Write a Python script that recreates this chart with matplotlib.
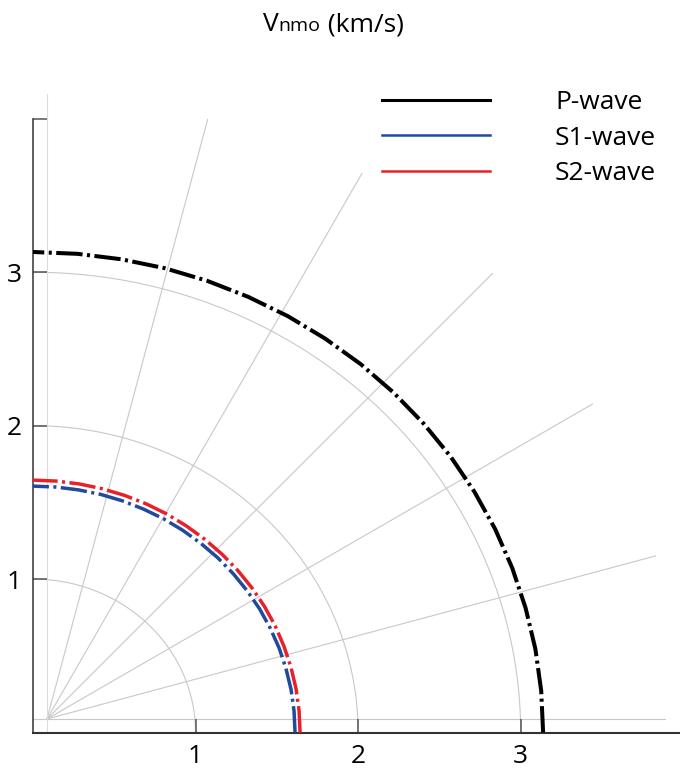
import numpy as np
import matplotlib.pyplot as plt
from matplotlib.lines import Line2D

plt.rcParams['font.family'] = ['Open Sans', 'DejaVu Sans']
plt.rcParams['lines.scale_dashes'] = False

# NMO velocity (km/s) vs azimuth measured from the x axis (deg)
azimuth = [0, 5, 10, 15, 20, 25, 30, 35, 40, 45, 50, 55, 60, 65, 70, 75, 80, 85, 90]
vnmo_p = [3.138, 3.138, 3.138, 3.137, 3.137, 3.137, 3.136, 3.136, 3.135, 3.135,
          3.135, 3.134, 3.134, 3.133, 3.133, 3.133, 3.132, 3.132, 3.132]
vnmo_s1 = [1.612, 1.612, 1.612, 1.611, 1.611, 1.610, 1.610, 1.609, 1.609, 1.609,
           1.608, 1.608, 1.608, 1.607, 1.607, 1.607, 1.606, 1.606, 1.606]
vnmo_s2 = [1.643, 1.643, 1.643, 1.643, 1.643, 1.644, 1.644, 1.644, 1.644, 1.644,
           1.644, 1.644, 1.645, 1.645, 1.645, 1.645, 1.645, 1.645, 1.645]

series = [("P-wave", vnmo_p, "black", 2.9, 2.2),
          ("S1-wave", vnmo_s1, "#1f4a9e", 2.5, 1.8),
          ("S2-wave", vnmo_s2, "#e8202a", 2.5, 1.8)]

ring_radii = [1, 2, 3]
spoke_angles = [15, 30, 45, 60, 75]
xmax, ymax = 3.98, 4.0

fig = plt.figure(figsize=(6.8, 7.7), dpi=100)
ax = fig.add_axes([0.0485, 0.0487, 0.9515, 0.797])
ax.set_xlim(0, xmax)
ax.set_ylim(0, ymax)

# pixels per data unit on each axis
pos = ax.get_position()
sx = pos.width * fig.get_figwidth() * fig.dpi / xmax
sy = pos.height * fig.get_figheight() * fig.dpi / ymax

grid_kw = dict(color="#c8c8c8", lw=0.8, zorder=1)

# range rings
th = np.radians(np.linspace(0, 90, 181))
for r in ring_radii:
    ax.plot(r * np.cos(th), r * np.sin(th), **grid_kw)

# spokes from the pole, equal length on screen
x0, y0 = 14 / sx, 13.5 / sy
spoke_len = 630
for a in spoke_angles:
    t = np.radians(a)
    ax.plot([x0, x0 + spoke_len * np.cos(t) / sx],
            [y0, y0 + spoke_len * np.sin(t) / sy], **grid_kw)
ax.plot([0, x0 + 618 / sx], [y0, y0], **grid_kw)
ax.plot([x0, x0], [0, y0 + 625 / sy], color="#dcdcdc", lw=0.8,
        zorder=1, clip_on=False)

# velocity curves
az = np.radians(azimuth)
handles = []
for name, v, col, lw, lw_leg in series:
    v = np.asarray(v)
    ax.plot(v * np.cos(az), v * np.sin(az), color=col, lw=lw,
            ls=(0, (19, 3.2, 2.2, 3.2)), zorder=3, clip_on=False)
    handles.append(Line2D([], [], color=col, lw=lw_leg))

ax.legend(handles, [s[0] for s in series], loc="upper left",
          bbox_to_anchor=(0.562, 0.883), bbox_transform=fig.transFigure,
          frameon=False, fontsize=19, handlelength=4.1, handletextpad=2.45,
          labelspacing=0.4, borderpad=0, borderaxespad=0)

for side in ["top", "right"]:
    ax.spines[side].set_visible(False)
ax.spines["left"].set_color("#333333")
ax.spines["left"].set_linewidth(1.1)
ax.spines["bottom"].set_color("#333333")
ax.spines["bottom"].set_linewidth(1.5)

ax.set_xticks([1, 2, 3])
ax.set_yticks([1, 2, 3, 4])
ax.set_yticklabels(["1", "2", "3", ""])
ax.tick_params(direction="in", length=10, width=1.1, color="#555555",
               labelsize=19, pad=8)

# title with the smaller "nmo" on the same baseline
r = fig.canvas.get_renderer()
xpix = 263
for s, size in [("V", 19), ("nmo", 14), (" (km/s)", 19)]:
    t = fig.text(xpix / 680, 1 - 31 / 770, s, fontsize=size,
                 ha="left", va="baseline")
    xpix = t.get_window_extent(r).x1

fig.savefig("out.png", dpi=100)
